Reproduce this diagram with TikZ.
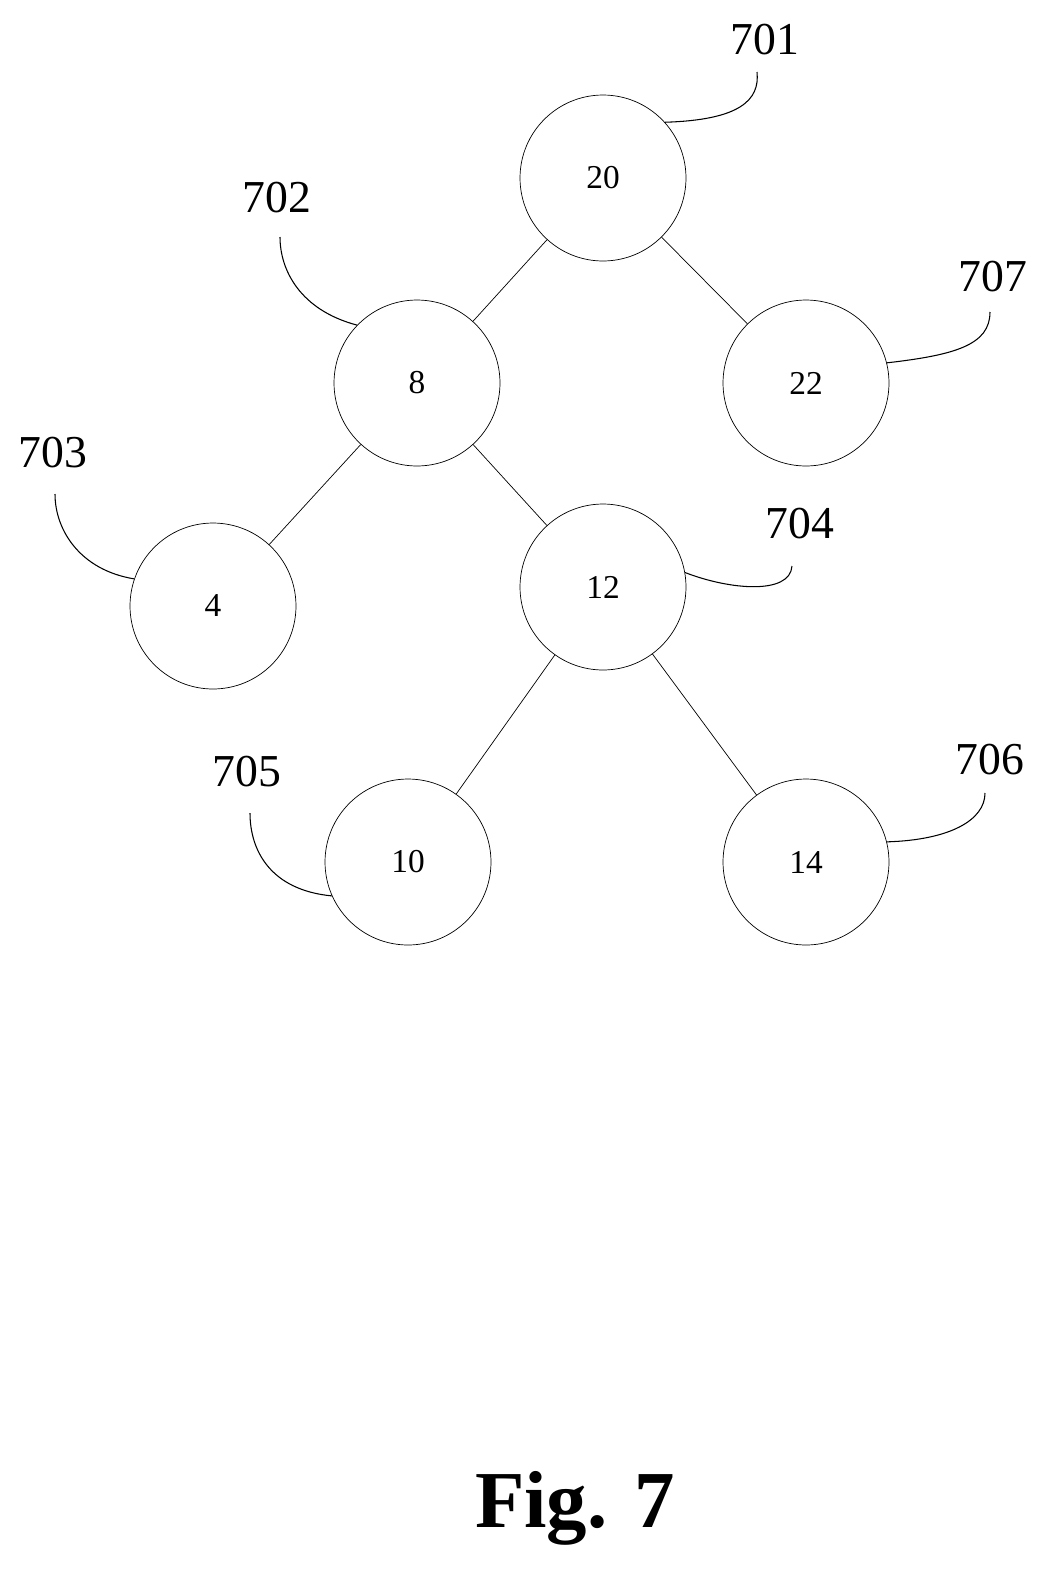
\documentclass[tikz,border=0pt]{standalone}
\usepackage{fontspec}
\setmainfont{Liberation Serif}
\begin{document}
\begin{tikzpicture}[x=0.02cm,y=-0.02cm,
    key/.style={draw,circle,minimum size=3.32cm,inner sep=0pt,font=\fontsize{19}{19}\selectfont},
    ref/.style={font=\fontsize{26}{26}\selectfont},
    lead/.style={semithick}]
    \useasboundingbox (0,0) rectangle (1062,1586);
    % tree
    \node[key] (n20) at (603,178) {20};
    \node[key] (n8) at (417,383) {8};
    \node[key] (n22) at (806,383) {22};
    \node[key] (n4) at (213,606) {4};
    \node[key] (n12) at (603,587) {12};
    \node[key] (n10) at (408,862) {10};
    \node[key] (n14) at (806,862) {14};
    \draw (n20) -- (n8);
    \draw (n20) -- (n22);
    \draw (n8) -- (n4);
    \draw (n8) -- (n12);
    \draw (n12) -- (n10);
    \draw (n12) -- (n14);
    % reference numerals
    \node[ref] (r701) at (765,40) {701};
    \node[ref] (r702) at (277,198) {702};
    \node[ref] (r703) at (53,453) {703};
    \node[ref] (r704) at (800,524) {704};
    \node[ref] (r705) at (247,772) {705};
    \node[ref] (r706) at (990,760) {706};
    \node[ref] (r707) at (993,277) {707};
    \coordinate (e701) at (757,72);
    \coordinate (e702) at (280,237);
    \coordinate (e703) at (55,494);
    \coordinate (e704) at (792,566);
    \coordinate (e705) at (250,813);
    \coordinate (e706) at (985,793);
    \coordinate (e707) at (990,312);
    \draw[lead] (n20.42) .. controls (740,120) and (760,100) .. (e701);
    \draw[lead] (n8.136) .. controls (300,310) and (280,270) .. (e702);
    \draw[lead] (n4.161) .. controls (80,570) and (55,530) .. (e703);
    \draw[lead] (n12.10) .. controls (730,590) and (790,595) .. (e704);
    \draw[lead] (n10.204) .. controls (270,890) and (250,850) .. (e705);
    \draw[lead] (n14.14) .. controls (950,840) and (985,820) .. (e706);
    \draw[lead] (n22.14) .. controls (955,355) and (990,345) .. (e707);
    % caption
    \node[font=\fontsize{46}{46}\selectfont\bfseries] (cap) at (575,1508) {Fig. 7};
\end{tikzpicture}
\end{document}
